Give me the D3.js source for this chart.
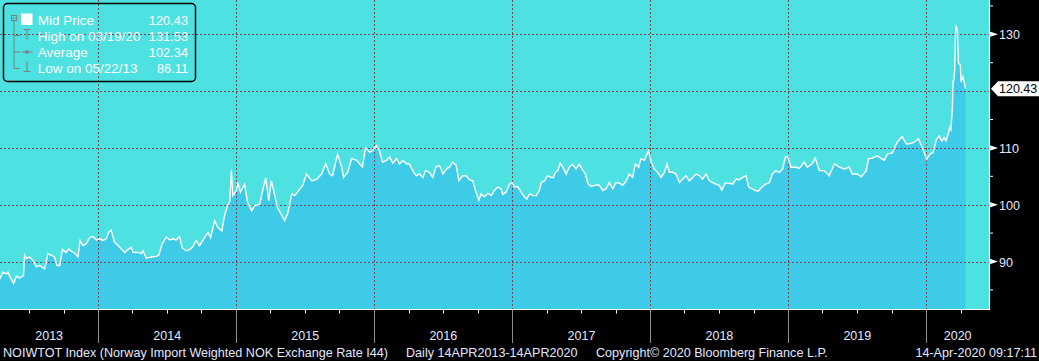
<!DOCTYPE html>
<html>
<head>
<meta charset="utf-8">
<script src="https://cdn.jsdelivr.net/npm/d3@7"></script>
<style>
	html, body { margin: 0; padding: 0; background: #000; overflow: hidden; }
	svg { display: block; }
</style>
</head>
<body>
<svg id="chart" width="1039" height="361"></svg>
<script>
// NOIWTOT Index, daily mid price
var series = [
	["2013-04-15",86.9],["2013-04-24",88.1],["2013-05-03",87.8],["2013-05-07",88.1],["2013-05-13",87.2],["2013-05-22",86.11],
	["2013-05-29",87.4],["2013-06-07",87.1],["2013-06-17",87.5],["2013-06-20",91.1],["2013-06-25",90.5],["2013-07-03",90.8],
	["2013-07-12",90.2],["2013-07-21",89.1],["2013-07-30",89.3],["2013-08-12",88.7],["2013-08-21",91.4],["2013-08-30",91.1],
	["2013-09-07",90.8],["2013-09-14",89.3],["2013-09-21",89.3],["2013-09-28",92.1],["2013-10-08",91.6],["2013-10-15",92.2],
	["2013-10-22",91.8],["2013-10-30",91.5],["2013-11-08",90.8],["2013-11-14",93.7],["2013-11-21",92.8],["2013-11-30",93.1],
	["2013-12-09",94.2],["2013-12-18",94.4],["2013-12-27",93.8],["2014-01-05",94.0],["2014-01-13",93.7],["2014-01-22",94.0],
	["2014-01-29",95.2],["2014-02-04",95.5],["2014-02-13",93.4],["2014-02-22",92.8],["2014-03-03",92.2],["2014-03-12",91.6],
	["2014-03-20",92.1],["2014-03-29",92.5],["2014-04-03",91.6],["2014-04-16",91.6],["2014-04-25",91.4],["2014-04-29",91.9],
	["2014-05-08",90.6],["2014-05-21",90.8],["2014-06-03",90.9],["2014-06-10",91.1],["2014-06-19",93.1],["2014-06-30",94.3],
	["2014-07-09",93.8],["2014-07-17",94.0],["2014-07-26",93.8],["2014-08-04",94.4],["2014-08-11",92.4],["2014-08-22",91.9],
	["2014-08-31",92.1],["2014-09-08",92.6],["2014-09-17",93.7],["2014-09-26",92.8],["2014-10-12",94.5],["2014-10-18",95.1],
	["2014-10-25",94.2],["2014-11-05",97.2],["2014-11-13",96.0],["2014-11-24",95.4],["2014-12-01",98.1],["2014-12-09",99.8],
	["2014-12-15",100.6],["2014-12-19",106.0],["2014-12-23",101.6],["2015-01-02",102.5],["2015-01-05",103.9],["2015-01-12",102.2],
	["2015-01-23",103.6],["2015-01-31",100.4],["2015-02-11",98.9],["2015-02-18",99.8],["2015-03-04",100.1],["2015-03-12",102.5],
	["2015-03-20",104.7],["2015-03-28",100.7],["2015-04-04",104.2],["2015-04-12",101.9],["2015-04-20",99.5],["2015-05-04",97.8],
	["2015-05-09",97.2],["2015-05-17",98.4],["2015-05-28",101.9],["2015-06-05",101.6],["2015-06-15",102.5],["2015-06-26",103.4],
	["2015-07-06",105.4],["2015-07-20",104.2],["2015-08-02",104.5],["2015-08-15",105.4],["2015-08-26",107.2],["2015-09-05",105.4],
	["2015-09-13",105.1],["2015-09-26",108.9],["2015-10-07",106.6],["2015-10-12",104.8],["2015-10-23",105.7],["2015-11-02",108.1],
	["2015-11-16",107.8],["2015-12-01",106.6],["2015-12-09",110.0],["2015-12-20",109.2],["2015-12-28",109.5],["2016-01-07",110.4],
	["2016-01-15",109.5],["2016-01-23",107.5],["2016-02-03",107.8],["2016-02-11",108.4],["2016-02-19",107.3],["2016-02-29",108.1],
	["2016-03-08",107.2],["2016-03-17",107.8],["2016-03-26",107.2],["2016-04-03",107.2],["2016-04-12",106.0],["2016-04-21",105.1],
	["2016-04-30",105.4],["2016-05-09",104.8],["2016-05-16",106.0],["2016-05-26",105.7],["2016-06-04",104.8],["2016-06-13",106.7],
	["2016-06-22",106.9],["2016-07-01",105.4],["2016-07-10",106.3],["2016-07-18",106.6],["2016-07-27",107.5],["2016-08-05",106.9],
	["2016-08-12",104.2],["2016-08-22",105.1],["2016-08-31",105.1],["2016-09-09",104.4],["2016-09-18",104.2],["2016-09-25",102.5],
	["2016-10-04",100.8],["2016-10-10",101.9],["2016-10-19",101.4],["2016-10-28",102.0],["2016-11-06",101.6],["2016-11-14",102.5],
	["2016-11-23",103.1],["2016-12-02",102.8],["2016-12-06",101.8],["2016-12-15",102.2],["2016-12-24",103.6],["2016-12-31",103.9],
	["2017-01-06",103.1],["2017-01-15",103.2],["2017-01-24",102.2],["2017-02-02",101.3],["2017-02-08",101.0],["2017-02-15",101.9],
	["2017-02-24",101.6],["2017-03-05",101.6],["2017-03-13",102.5],["2017-03-18",103.9],["2017-03-27",104.2],["2017-04-04",105.1],
	["2017-04-13",104.8],["2017-04-19",104.8],["2017-04-25",105.7],["2017-05-01",106.0],["2017-05-07",107.3],["2017-05-14",106.6],
	["2017-05-23",105.4],["2017-06-01",106.7],["2017-06-09",107.1],["2017-06-18",106.3],["2017-06-27",107.1],["2017-07-06",106.1],
	["2017-07-13",105.4],["2017-07-19",103.8],["2017-07-28",103.2],["2017-08-06",103.4],["2017-08-15",103.5],["2017-08-19",103.4],
	["2017-08-28",102.5],["2017-09-06",102.8],["2017-09-14",103.9],["2017-09-23",102.8],["2017-10-02",103.9],["2017-10-11",103.8],
	["2017-10-20",103.4],["2017-10-29",104.2],["2017-11-06",105.4],["2017-11-15",104.8],["2017-11-22",107.2],["2017-12-01",106.6],
	["2017-12-07",108.1],["2017-12-16",107.8],["2017-12-21",108.6],["2017-12-27",109.5],["2018-01-03",107.5],["2018-01-11",106.3],
	["2018-01-20",105.7],["2018-01-29",104.8],["2018-02-07",105.7],["2018-02-14",107.2],["2018-02-20",105.7],["2018-03-01",105.7],
	["2018-03-10",105.4],["2018-03-19",103.9],["2018-03-27",104.5],["2018-04-05",105.1],["2018-04-14",104.2],["2018-04-23",104.8],
	["2018-05-02",105.4],["2018-05-11",105.1],["2018-05-19",104.5],["2018-05-28",105.4],["2018-06-06",104.2],["2018-06-15",103.9],
	["2018-06-24",103.6],["2018-07-02",103.4],["2018-07-09",102.6],["2018-07-18",103.8],["2018-07-29",103.8],["2018-08-07",103.6],
	["2018-08-16",104.5],["2018-08-24",104.4],["2018-09-02",104.8],["2018-09-11",105.1],["2018-09-18",103.1],["2018-09-27",102.8],
	["2018-10-06",102.5],["2018-10-14",102.4],["2018-10-23",103.1],["2018-11-01",103.6],["2018-11-12",103.9],["2018-11-20",105.4],
	["2018-11-29",106.0],["2018-12-08",105.7],["2018-12-17",106.3],["2018-12-24",108.4],["2018-12-30",108.5],["2019-01-08",106.6],
	["2019-01-21",106.6],["2019-01-30",106.4],["2019-02-12",107.5],["2019-02-20",106.6],["2019-03-05",107.2],["2019-03-13",108.2],
	["2019-03-24",106.0],["2019-04-06",106.0],["2019-04-19",105.1],["2019-05-03",107.2],["2019-05-16",106.6],["2019-05-29",106.3],
	["2019-06-11",106.6],["2019-06-19",105.4],["2019-07-02",105.4],["2019-07-13",104.9],["2019-07-26",106.0],["2019-08-01",108.1],
	["2019-08-11",108.2],["2019-08-24",108.6],["2019-09-04",108.1],["2019-09-12",107.8],["2019-09-20",108.9],["2019-10-03",109.1],
	["2019-10-16",111.0],["2019-10-29",112.0],["2019-11-09",110.7],["2019-11-17",110.7],["2019-11-30",111.0],["2019-12-11",111.6],
	["2019-12-21",110.1],["2020-01-02",108.0],["2020-01-11",108.9],["2020-01-19",109.2],["2020-01-28",111.5],["2020-02-04",112.1],
	["2020-02-11",111.2],["2020-02-17",111.8],["2020-02-22",111.2],["2020-02-28",112.4],["2020-03-03",113.6],["2020-03-06",113.2],
	["2020-03-10",116.9],["2020-03-12",121.9],["2020-03-13",121.5],["2020-03-16",123.4],["2020-03-19",131.53],["2020-03-23",130.8],
	["2020-03-26",124.9],["2020-03-31",124.6],["2020-04-02",121.6],["2020-04-07",122.5],["2020-04-14",120.43]
];

var years = [2013, 2014, 2015, 2016, 2017, 2018, 2019, 2020];
var yGrid = [90, 100, 110, 120, 130];
var yLabels = [90, 100, 110, 130];
var yMinor = [85, 95, 105, 115, 125, 135];
var lastPrice = "120.43";

var legendLabels = ["Mid Price", "High on 03/19/20", "Average", "Low on 05/22/13"];
var legendValues = ["120.43", "131.53", "102.34", "86.11"];

var footerTitle = "NOIWTOT Index (Norway Import Weighted NOK Exchange Rate I44)";
var footerRange = "Daily 14APR2013-14APR2020";
var footerCopy = "Copyright\u00a9 2020 Bloomberg Finance L.P.";
var footerStamp = "14-Apr-2020 09:17:11";

var plotW = 989, plotH = 309;
var gridColor = "#7a4654", axisText = "#e2e8ff";
var font = "'Liberation Sans', Arial, sans-serif";

var parse = d3.utcParse("%Y-%m-%d");
var data = series.map(d => ({date: parse(d[0]), value: d[1]}));

var x = d3.scaleUtc()
	.domain([Date.UTC(2014, 0, 1), Date.UTC(2020, 0, 1)])
	.range([98.3, 926.3]);
var y = d3.scaleLinear().domain([90, 130]).range([261.5, 34.3]);

var svg = d3.select("#chart");

svg.append("clipPath").attr("id", "plotclip")
	.append("rect").attr("width", plotW).attr("height", plotH);

var plot = svg.append("g").attr("clip-path", "url(#plotclip)");

plot.append("rect")
	.attr("width", plotW).attr("height", plotH)
	.attr("fill", "#4ee1e1");

plot.append("path")
	.datum(data)
	.attr("fill", "#3ecbe7")
	.attr("d", d3.area().x(d => x(d.date)).y0(plotH).y1(d => y(d.value)));

// dotted grid
plot.selectAll(".hgrid").data(yGrid).join("line")
	.attr("x1", 0).attr("x2", plotW)
	.attr("y1", d => Math.round(y(d)) + 0.5).attr("y2", d => Math.round(y(d)) + 0.5)
	.attr("stroke", gridColor).attr("stroke-dasharray", "2,2");

var yearStarts = years.slice(1).map(yr => Date.UTC(yr, 0, 1));
plot.selectAll(".vgrid").data(yearStarts).join("line")
	.attr("x1", d => Math.round(x(d)) + 0.5).attr("x2", d => Math.round(x(d)) + 0.5)
	.attr("y1", 0).attr("y2", plotH)
	.attr("stroke", gridColor).attr("stroke-dasharray", "2,2");

plot.append("path")
	.datum(data)
	.attr("fill", "none")
	.attr("stroke", "#ffffff")
	.attr("stroke-width", 1.4)
	.attr("d", d3.line().x(d => x(d.date)).y(d => y(d.value)));

// axis frame
svg.append("path")
	.attr("d", "M0," + (plotH + 0.5) + "H" + (plotW + 0.5) + "V0")
	.attr("fill", "none").attr("stroke", "#fff").attr("stroke-width", 1.2);

// right axis
svg.selectAll(".minor").data(yMinor).join("line")
	.attr("x1", plotW).attr("x2", plotW + 4)
	.attr("y1", d => y(d)).attr("y2", d => y(d))
	.attr("stroke", "#fff");

svg.selectAll(".arrow").data(yLabels).join("path")
	.attr("d", d => "M" + plotW + "," + (y(d) - 3) + "L" + (plotW + 9) + "," + y(d) + "L" + plotW + "," + (y(d) + 3) + "Z")
	.attr("fill", "#fff");

svg.selectAll(".ylab").data(yLabels).join("text")
	.attr("x", 999).attr("y", d => y(d) + 5)
	.attr("fill", axisText)
	.style("font", "12.5px " + font)
	.text(d => d);

var ly = y(+lastPrice);
svg.append("path")
	.attr("d", "M991," + ly + "L998," + (ly - 7.5) + "H1039V" + (ly + 7.5) + "H998Z")
	.attr("fill", "#fff");
svg.append("text")
	.attr("x", 999).attr("y", ly + 4.8)
	.attr("fill", "#000")
	.style("font", "12.5px " + font)
	.text(lastPrice);

// bottom axis: quarter ticks, year separators, year labels
var quarters = [];
years.forEach(function(yr) {
	[3, 6, 9].forEach(m => quarters.push(Date.UTC(yr, m, 1)));
});
svg.selectAll(".qtick").data(quarters.filter(d => x(d) > 0 && x(d) < plotW)).join("line")
	.attr("x1", d => Math.round(x(d)) + 0.5).attr("x2", d => Math.round(x(d)) + 0.5)
	.attr("y1", plotH).attr("y2", plotH + 4.5)
	.attr("stroke", "#fff");

svg.selectAll(".ytick").data(yearStarts).join("line")
	.attr("x1", d => Math.round(x(d)) + 0.5).attr("x2", d => Math.round(x(d)) + 0.5)
	.attr("y1", plotH + 1).attr("y2", 343)
	.attr("stroke", "#8c8c8c");

svg.selectAll(".ylabel").data(years).join("text")
	.attr("x", function(yr) {
		var a = Math.max(0, x(Date.UTC(yr, 0, 1)));
		var b = Math.min(plotW, x(Date.UTC(yr + 1, 0, 1)));
		return (a + b) / 2;
	})
	.attr("y", 339.5)
	.attr("text-anchor", "middle")
	.attr("fill", axisText)
	.style("font", "12.5px " + font)
	.text(d => d);

// footer
var foot = svg.append("g").attr("fill", axisText).style("font", "12.6px " + font);
foot.append("text").attr("x", 3).attr("y", 356.7).text(footerTitle);
foot.append("text").attr("x", 406).attr("y", 356.7).text(footerRange);
foot.append("text").attr("x", 596).attr("y", 356.7).text(footerCopy);
foot.append("text").attr("x", 1037).attr("y", 356.7).attr("text-anchor", "end").text(footerStamp);

// legend box
var legend = svg.append("g");
legend.append("rect")
	.attr("x", 3.5).attr("y", 3.5).attr("width", 192).attr("height", 78).attr("rx", 4)
	.attr("fill", "none").attr("stroke", "#000").attr("stroke-width", 1.5);

var iconGray = "#7d7d7d";
legend.append("rect").attr("x", 11.5).attr("y", 15.5).attr("width", 5).attr("height", 5)
	.attr("fill", "none").attr("stroke", iconGray);
legend.append("path")
	.attr("d", "M12.5,18H15.5M14,20.5V68.5M14,35.5H20M14,52H20M14,68.5H20" +
		"M23.5,29.5H30.5M27,29.5V39.5M21.5,52H32.5M27,61.5V71.5M23.5,71.5H30.5")
	.attr("fill", "none").attr("stroke", iconGray);
legend.append("circle").attr("cx", 27).attr("cy", 52).attr("r", 1.8).attr("fill", iconGray);
legend.append("rect").attr("x", 21).attr("y", 13.5).attr("width", 11.5).attr("height", 11.5).attr("fill", "#fff");

var rowY = [25, 40.7, 56.7, 72.7];
legend.selectAll(".lname").data(legendLabels).join("text")
	.attr("x", 37.7).attr("y", (d, i) => rowY[i])
	.attr("fill", "#fff")
	.style("font", "13.5px " + font)
	.text(d => d);
legend.selectAll(".lval").data(legendValues).join("text")
	.attr("x", 188).attr("y", (d, i) => rowY[i])
	.attr("text-anchor", "end")
	.attr("fill", "#fff")
	.style("font", "12.8px " + font)
	.text(d => d);
</script>
</body>
</html>
